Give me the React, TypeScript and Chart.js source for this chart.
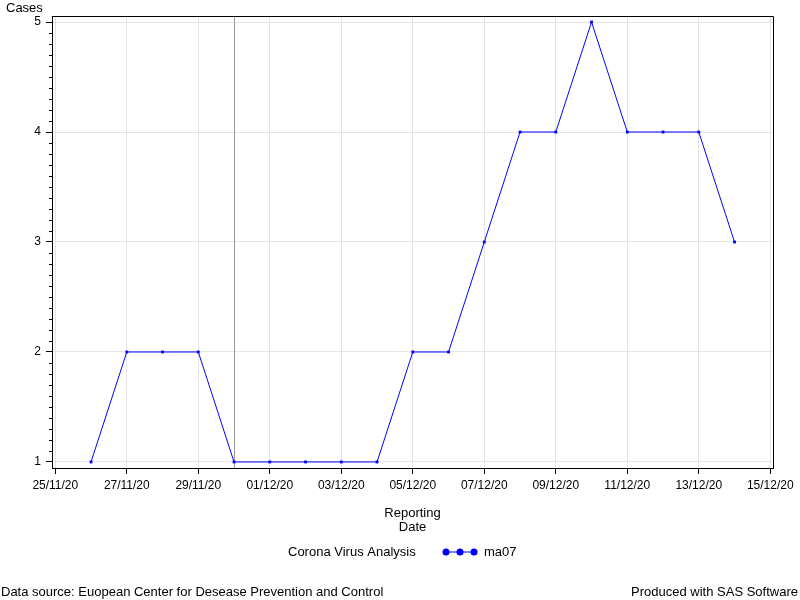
import React, { useEffect, useRef } from "react";
import { Chart, registerables } from "chart.js";

Chart.register(...registerables);

// ---- Data ----
const categories = [
  "26/11/20", "27/11/20", "28/11/20", "29/11/20", "30/11/20",
  "01/12/20", "02/12/20", "03/12/20", "04/12/20", "05/12/20",
  "06/12/20", "07/12/20", "08/12/20", "09/12/20", "10/12/20",
  "11/12/20", "12/12/20", "13/12/20", "14/12/20",
];
const ma07 = [1, 2, 2, 2, 1, 1, 1, 1, 1, 2, 2, 3, 4, 4, 5, 4, 4, 4, 3];
const xTickLabels = [
  "25/11/20", "27/11/20", "29/11/20", "01/12/20", "03/12/20", "05/12/20",
  "07/12/20", "09/12/20", "11/12/20", "13/12/20", "15/12/20",
];
const yTicks = [1, 2, 3, 4, 5];
const refLineDate = "30/11/20";
const seriesLabel = "ma07";
const legendTitle = "Corona Virus Analysis";
const yTitle = "Cases";
const xTitle = ["Reporting", "Date"];
const footLeft = "Data source: Euopean Center for Desease Prevention and Control";
const footRight = "Produced with SAS Software";

const FONT = "'Liberation Sans', Arial, Helvetica, sans-serif";

function toDay(s: string): number {
  const [d, m, y] = s.split("/").map(Number);
  return Date.UTC(2000 + y, m - 1, d) / 86400000;
}

const points = categories.map((c, i) => ({ x: toDay(c), y: ma07[i] }));
const xMin = toDay(xTickLabels[0]) - 0.092;
const xMax = toDay(xTickLabels[xTickLabels.length - 1]) + 0.076;

const decorPlugin = {
  id: "sasDecor",
  beforeDatasetsDraw(chart: any) {
    const { ctx, chartArea } = chart;
    const xs = chart.scales.x;
    const x = Math.round(xs.getPixelForValue(toDay(refLineDate))) + 0.5;
    ctx.save();
    ctx.strokeStyle = "#9a9a9a";
    ctx.lineWidth = 1;
    ctx.beginPath();
    ctx.moveTo(x, chartArea.top);
    ctx.lineTo(x, chartArea.bottom);
    ctx.stroke();
    ctx.restore();
  },
  afterDraw(chart: any) {
    const { ctx, chartArea } = chart;
    const ys = chart.scales.y;
    ctx.save();
    // frame top & right
    ctx.strokeStyle = "#000";
    ctx.lineWidth = 1;
    const L = Math.round(chartArea.left) + 0.5;
    const R = Math.round(chartArea.right) + 0.5;
    const T = Math.round(chartArea.top) + 0.5;
    const B = Math.round(chartArea.bottom) + 0.5;
    ctx.beginPath();
    ctx.moveTo(L, T);
    ctx.lineTo(R, T);
    ctx.lineTo(R, B);
    ctx.stroke();
    // minor y ticks
    ctx.beginPath();
    for (let i = 10; i <= 50; i++) {
      if (i % 10 === 0) continue;
      const v = i / 10;
      if (v < ys.min || v > ys.max) continue;
      const y = Math.round(ys.getPixelForValue(v)) + 0.5;
      ctx.moveTo(L - 3.5, y);
      ctx.lineTo(L, y);
    }
    ctx.stroke();

    ctx.fillStyle = "#000";
    ctx.font = `13px ${FONT}`;
    ctx.textBaseline = "middle";
    // y title
    ctx.textAlign = "left";
    ctx.fillText(yTitle, 6, 8);

    // legend
    const ds = chart.data.datasets[0];
    ctx.fillText(legendTitle, 288, 552);
    ctx.strokeStyle = ds.borderColor;
    ctx.fillStyle = ds.borderColor;
    ctx.beginPath();
    ctx.moveTo(446, 552);
    ctx.lineTo(474, 552);
    ctx.stroke();
    [446, 460, 474].forEach((cx) => {
      ctx.beginPath();
      ctx.arc(cx, 552, 3.5, 0, Math.PI * 2);
      ctx.fill();
    });
    ctx.fillStyle = "#000";
    ctx.fillText(ds.label, 484, 552);

    // footnotes
    ctx.fillText(footLeft, 1, 592);
    ctx.textAlign = "right";
    ctx.fillText(footRight, 798, 592);
    ctx.restore();
  },
};

export default function App() {
  const ref = useRef<HTMLCanvasElement | null>(null);

  useEffect(() => {
    if (!ref.current) return;
    Chart.defaults.font.family = FONT;
    Chart.defaults.font.size = 12;
    Chart.defaults.color = "#000";
    const chart = new Chart(ref.current, {
      type: "line",
      data: {
        datasets: [
          {
            label: seriesLabel,
            data: points,
            borderColor: "#0000ff",
            backgroundColor: "#0000ff",
            borderWidth: 1,
            pointStyle: "rect",
            pointRadius: 2,
            pointBorderWidth: 0,
            pointBackgroundColor: "#0000ff",
            tension: 0,
            fill: false,
          },
        ],
      },
      options: {
        animation: false,
        responsive: false,
        devicePixelRatio: 1,
        layout: { padding: { left: 0, top: 16, right: 27, bottom: 66 } },
        plugins: {
          legend: { display: false },
          title: { display: false },
          tooltip: { enabled: false },
        },
        scales: {
          x: {
            type: "linear",
            min: xMin,
            max: xMax,
            afterBuildTicks(scale: any) {
              scale.ticks = xTickLabels.map((s) => ({ value: toDay(s) }));
            },
            afterFit(scale: any) {
              scale.height = 66;
            },
            ticks: {
              autoSkip: false,
              maxRotation: 0,
              padding: 4,
              color: "#000",
              font: { size: 12 },
              callback(value: any) {
                const lab = xTickLabels.find((s) => Math.abs(toDay(s) - value) < 1e-6);
                return lab ?? "";
              },
            },
            grid: {
              color: "#e4e4e4",
              tickColor: "#000",
              tickLength: 6,
              lineWidth: 1,
            },
            border: { color: "#000", width: 1 },
            title: {
              display: true,
              text: xTitle,
              color: "#000",
              font: { size: 13, lineHeight: 1.08 },
              padding: { top: 0, bottom: 0 },
            },
          },
          y: {
            type: "linear",
            min: 0.945,
            max: 5.055,
            afterBuildTicks(scale: any) {
              scale.ticks = yTicks.map((v) => ({ value: v }));
            },
            afterFit(scale: any) {
              scale.width = 52;
            },
            ticks: {
              autoSkip: false,
              padding: 5,
              color: "#000",
              font: { size: 12 },
              callback(value: any) {
                return String(value);
              },
            },
            grid: {
              color: "#e4e4e4",
              tickColor: "#000",
              tickLength: 6,
              lineWidth: 1,
            },
            border: { color: "#000", width: 1 },
          },
        },
      },
      plugins: [decorPlugin],
    } as any);
    return () => chart.destroy();
  }, []);

  return (
    <div style={{ position: "absolute", left: 0, top: 0, width: 800, height: 600, background: "#fff" }}>
      <canvas ref={ref} width={800} height={600} style={{ display: "block" }} />
    </div>
  );
}
